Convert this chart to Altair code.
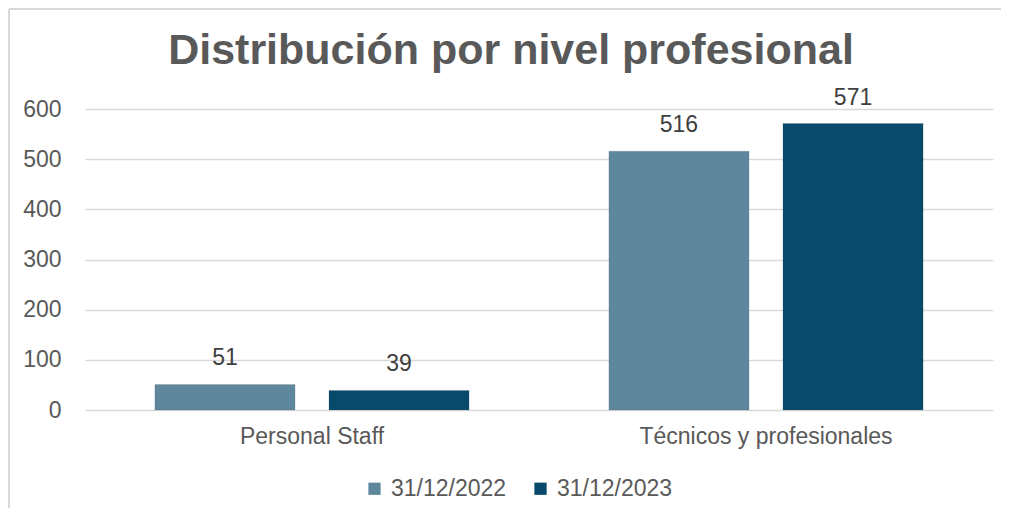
import altair as alt
import pandas as pd

categories = ["Personal Staff", "Técnicos y profesionales"]
series = ["31/12/2022", "31/12/2023"]
values_2022 = [51, 516]
values_2023 = [39, 571]
colors = ["#5E879D", "#084A6B"]
y_ticks = [0, 100, 200, 300, 400, 500, 600]

rows = []
for c, v in zip(categories, values_2022):
    rows.append({"cat": c, "series": series[0], "value": v})
for c, v in zip(categories, values_2023):
    rows.append({"cat": c, "series": series[1], "value": v})
df = pd.DataFrame(rows)

FONT = "Liberation Sans"

base = alt.Chart(df).encode(
    x=alt.X(
        "cat:N",
        sort=categories,
        scale=alt.Scale(paddingInner=0.308, paddingOuter=0.154),
        axis=alt.Axis(
            title=None, labelAngle=0, ticks=False, tickSize=0, domain=False,
            labelPadding=15, labelLimit=600, labelFont=FONT, labelFontSize=23,
            labelColor="#595959",
        ),
    ),
    xOffset=alt.XOffset("series:N", sort=series, scale=alt.Scale(paddingInner=0.195)),
    y=alt.Y(
        "value:Q",
        scale=alt.Scale(domain=[0, 600], nice=False),
        axis=alt.Axis(
            title=None, values=y_ticks, ticks=False, tickSize=0, domain=False,
            labelPadding=24, labelFont=FONT, labelFontSize=23, labelColor="#595959",
            gridColor="#D9D9D9", gridWidth=1.5,
        ),
    ),
)

bars = base.mark_bar(stroke="#4a4a4a", strokeOpacity=0.15, strokeWidth=1).encode(
    color=alt.Color(
        "series:N",
        sort=series,
        scale=alt.Scale(domain=series, range=colors),
        legend=alt.Legend(
            title=None, orient="none", legendX=278, legendY=368, direction="horizontal",
            symbolType="square", symbolSize=150, symbolStrokeWidth=0,
            labelFont=FONT, labelFontSize=23, labelColor="#595959",
            columnPadding=22, labelOffset=5,
        ),
    )
)

labels = base.mark_text(
    font=FONT, fontSize=23, color="#404040", baseline="middle", dy=-26
).encode(text=alt.Text("value:Q"))

top_line = alt.Chart(df).mark_rule(color="#D9D9D9", strokeWidth=2).encode(
    x=alt.value(-76), x2=alt.value(930), y=alt.value(-100)
)
left_line = alt.Chart(df).mark_rule(color="#D9D9D9", strokeWidth=2).encode(
    x=alt.value(-76), y=alt.value(-100), y2=alt.value(420)
)

chart = (
    alt.layer(bars, labels, top_line, left_line)
    .properties(
        width=908,
        height=301,
        autosize=alt.AutoSizeParams(type="none"),
        padding={"left": 77, "top": 101, "right": 8, "bottom": 98},
        title=alt.TitleParams(
            "Distribución por nivel profesional",
            font=FONT, fontSize=43, fontWeight="bold", color="#595959",
            anchor="middle", dx=-28, offset=0, dy=65,
        ),
    )
    .configure_view(stroke=None)
    .configure_axis(grid=True)
    .configure_axisX(grid=False)
)

chart.save("out.html", embed_options={"renderer": "svg", "actions": False})
